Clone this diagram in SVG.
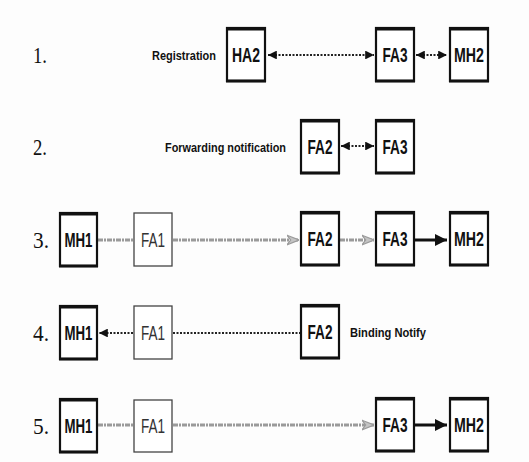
<svg xmlns="http://www.w3.org/2000/svg" width="529" height="462" viewBox="0 0 529 462">
  <defs>
    <style>
      .box { fill: #fff; stroke: #111; stroke-width: 2.2; }
      .edge { stroke: #111; stroke-width: 3.2; }
      .thin { fill: #fff; stroke: #444; stroke-width: 1.3; }
      .lbl { font-family: "Liberation Sans", Arial, sans-serif; font-weight: bold; font-size: 20px; fill: #111; text-anchor: middle; }
      .lbl2 { font-family: "Liberation Sans", Arial, sans-serif; font-size: 20px; fill: #333; text-anchor: middle; }
      .cap { font-family: "Liberation Sans", Arial, sans-serif; font-weight: bold; font-size: 13px; fill: #111; }
      .num { font-family: "Liberation Serif", "Times New Roman", serif; font-size: 24px; fill: #111; }
      .dot { stroke: #222; stroke-width: 2.2; stroke-dasharray: 2 1.5; fill: none; }
      .grey { stroke: #9a9a9a; stroke-width: 3; stroke-dasharray: 5 1 2 1; fill: none; }
      .solid { stroke: #111; stroke-width: 3; fill: none; }
    </style>
    <marker id="head" viewBox="0 0 10 10" refX="10" refY="5" markerWidth="4" markerHeight="4" orient="auto-start-reverse" markerUnits="strokeWidth">
      <path d="M0,0 L10,5 L0,10 Z" fill="#111"/>
    </marker>
    <marker id="headS" viewBox="0 0 10 10" refX="10" refY="5" markerWidth="4" markerHeight="4" orient="auto" markerUnits="strokeWidth">
      <path d="M0,0 L10,5 L0,10 Z" fill="#111"/>
    </marker>
    <marker id="open" viewBox="0 0 10 10" refX="10" refY="5" markerWidth="4" markerHeight="4" orient="auto" markerUnits="strokeWidth">
      <path d="M0,1 L10,5 L0,9 L3,5 Z" fill="#c4c4c4" stroke="#9a9a9a" stroke-width="1"/>
    </marker>
  </defs>

  <rect width="529" height="462" fill="#fdfdfd"/>

  <!-- step numbers and captions -->
  <g id="captions">
    <text class="num" x="33" y="63" textLength="14" lengthAdjust="spacingAndGlyphs">1.</text>
    <text class="num" x="33" y="155" textLength="14" lengthAdjust="spacingAndGlyphs">2.</text>
    <text class="num" x="33" y="248" textLength="16" lengthAdjust="spacingAndGlyphs">3.</text>
    <text class="num" x="33" y="341" textLength="16" lengthAdjust="spacingAndGlyphs">4.</text>
    <text class="num" x="33" y="434" textLength="16" lengthAdjust="spacingAndGlyphs">5.</text>
    <text class="cap" x="152" y="60" textLength="64" lengthAdjust="spacingAndGlyphs">Registration</text>
    <text class="cap" x="165" y="152" font-size="12" textLength="121" lengthAdjust="spacingAndGlyphs">Forwarding notification</text>
    <text class="cap" x="350" y="337" textLength="76" lengthAdjust="spacingAndGlyphs">Binding Notify</text>
  </g>

  <!-- connectors -->
  <g id="connectors">
    <!-- row 1 -->
    <line class="dot" x1="268" y1="55" x2="374" y2="55" marker-start="url(#head)" marker-end="url(#head)"/>
    <line class="dot" x1="416" y1="55" x2="447" y2="55" marker-start="url(#head)" marker-end="url(#head)"/>
    <!-- row 2 -->
    <line class="dot" x1="341" y1="146" x2="374" y2="146" marker-start="url(#head)" marker-end="url(#head)"/>
    <!-- row 3 -->
    <line class="grey" x1="98" y1="240" x2="133" y2="240"/>
    <line class="grey" x1="173" y1="240" x2="299" y2="240" marker-end="url(#open)"/>
    <line class="grey" x1="340" y1="240" x2="374" y2="240" marker-end="url(#open)"/>
    <line class="solid" x1="415" y1="240" x2="447" y2="240" marker-end="url(#headS)"/>
    <!-- row 4 -->
    <line class="dot" x1="133" y1="333" x2="99" y2="333" marker-end="url(#headS)"/>
    <line class="dot" x1="173" y1="333" x2="300" y2="333"/>
    <!-- row 5 -->
    <line class="grey" x1="98" y1="425" x2="133" y2="425"/>
    <line class="grey" x1="173" y1="425" x2="374" y2="425" marker-end="url(#open)"/>
    <line class="solid" x1="415" y1="425" x2="447" y2="425" marker-end="url(#headS)"/>
  </g>

  <!-- row 1 -->
  <g id="r1-ha2">
    <rect class="box" x="227" y="28" width="38" height="53"/>
    <line class="edge" x1="226" y1="29" x2="266" y2="29"/>
    <line class="edge" x1="226" y1="81" x2="266" y2="81"/>
    <text class="lbl" x="246" y="62" textLength="28" lengthAdjust="spacingAndGlyphs">HA2</text>
  </g>
  <g id="r1-fa3">
    <rect class="box" x="376" y="28" width="38" height="53"/>
    <line class="edge" x1="375" y1="29" x2="415" y2="29"/>
    <line class="edge" x1="375" y1="81" x2="415" y2="81"/>
    <text class="lbl" x="395" y="62" textLength="25" lengthAdjust="spacingAndGlyphs">FA3</text>
  </g>
  <g id="r1-mh2">
    <rect class="box" x="450" y="28" width="38" height="53"/>
    <line class="edge" x1="449" y1="29" x2="489" y2="29"/>
    <line class="edge" x1="449" y1="81" x2="489" y2="81"/>
    <text class="lbl" x="469" y="62" textLength="30" lengthAdjust="spacingAndGlyphs">MH2</text>
  </g>

  <!-- row 2 -->
  <g id="r2-fa2">
    <rect class="box" x="301" y="120" width="38" height="53"/>
    <line class="edge" x1="300" y1="121" x2="340" y2="121"/>
    <line class="edge" x1="300" y1="173" x2="340" y2="173"/>
    <text class="lbl" x="320" y="154" textLength="25" lengthAdjust="spacingAndGlyphs">FA2</text>
  </g>
  <g id="r2-fa3">
    <rect class="box" x="376" y="120" width="38" height="53"/>
    <line class="edge" x1="375" y1="121" x2="415" y2="121"/>
    <line class="edge" x1="375" y1="173" x2="415" y2="173"/>
    <text class="lbl" x="395" y="154" textLength="25" lengthAdjust="spacingAndGlyphs">FA3</text>
  </g>

  <!-- row 3 -->
  <g id="r3-mh1">
    <rect class="box" x="60" y="213" width="37" height="53"/>
    <line class="edge" x1="59" y1="214" x2="98" y2="214"/>
    <line class="edge" x1="59" y1="266" x2="98" y2="266"/>
    <text class="lbl" x="78.5" y="247" textLength="28" lengthAdjust="spacingAndGlyphs">MH1</text>
  </g>
  <g id="r3-fa1">
    <rect class="thin" x="134" y="213" width="38" height="53"/>
    <text class="lbl2" x="153" y="247" textLength="24" lengthAdjust="spacingAndGlyphs">FA1</text>
  </g>
  <g id="r3-fa2">
    <rect class="box" x="301" y="212" width="38" height="53"/>
    <line class="edge" x1="300" y1="213" x2="340" y2="213"/>
    <line class="edge" x1="300" y1="265" x2="340" y2="265"/>
    <text class="lbl" x="320" y="246" textLength="25" lengthAdjust="spacingAndGlyphs">FA2</text>
  </g>
  <g id="r3-fa3">
    <rect class="box" x="376" y="212" width="38" height="53"/>
    <line class="edge" x1="375" y1="213" x2="415" y2="213"/>
    <line class="edge" x1="375" y1="265" x2="415" y2="265"/>
    <text class="lbl" x="395" y="246" textLength="25" lengthAdjust="spacingAndGlyphs">FA3</text>
  </g>
  <g id="r3-mh2">
    <rect class="box" x="450" y="212" width="38" height="53"/>
    <line class="edge" x1="449" y1="213" x2="489" y2="213"/>
    <line class="edge" x1="449" y1="265" x2="489" y2="265"/>
    <text class="lbl" x="469" y="246" textLength="30" lengthAdjust="spacingAndGlyphs">MH2</text>
  </g>

  <!-- row 4 -->
  <g id="r4-mh1">
    <rect class="box" x="60" y="306" width="37" height="53"/>
    <line class="edge" x1="59" y1="307" x2="98" y2="307"/>
    <line class="edge" x1="59" y1="359" x2="98" y2="359"/>
    <text class="lbl" x="78.5" y="340" textLength="28" lengthAdjust="spacingAndGlyphs">MH1</text>
  </g>
  <g id="r4-fa1">
    <rect class="thin" x="134" y="306" width="38" height="53"/>
    <text class="lbl2" x="153" y="340" textLength="24" lengthAdjust="spacingAndGlyphs">FA1</text>
  </g>
  <g id="r4-fa2">
    <rect class="box" x="301" y="305" width="38" height="53"/>
    <line class="edge" x1="300" y1="306" x2="340" y2="306"/>
    <line class="edge" x1="300" y1="358" x2="340" y2="358"/>
    <text class="lbl" x="320" y="339" textLength="25" lengthAdjust="spacingAndGlyphs">FA2</text>
  </g>

  <!-- row 5 -->
  <g id="r5-mh1">
    <rect class="box" x="60" y="399" width="37" height="53"/>
    <line class="edge" x1="59" y1="400" x2="98" y2="400"/>
    <line class="edge" x1="59" y1="452" x2="98" y2="452"/>
    <text class="lbl" x="78.5" y="433" textLength="28" lengthAdjust="spacingAndGlyphs">MH1</text>
  </g>
  <g id="r5-fa1">
    <rect class="thin" x="134" y="400" width="38" height="52"/>
    <text class="lbl2" x="153" y="433" textLength="24" lengthAdjust="spacingAndGlyphs">FA1</text>
  </g>
  <g id="r5-fa3">
    <rect class="box" x="376" y="398" width="38" height="53"/>
    <line class="edge" x1="375" y1="399" x2="415" y2="399"/>
    <line class="edge" x1="375" y1="451" x2="415" y2="451"/>
    <text class="lbl" x="395" y="432" textLength="25" lengthAdjust="spacingAndGlyphs">FA3</text>
  </g>
  <g id="r5-mh2">
    <rect class="box" x="450" y="398" width="38" height="53"/>
    <line class="edge" x1="449" y1="399" x2="489" y2="399"/>
    <line class="edge" x1="449" y1="451" x2="489" y2="451"/>
    <text class="lbl" x="469" y="432" textLength="30" lengthAdjust="spacingAndGlyphs">MH2</text>
  </g>
</svg>
